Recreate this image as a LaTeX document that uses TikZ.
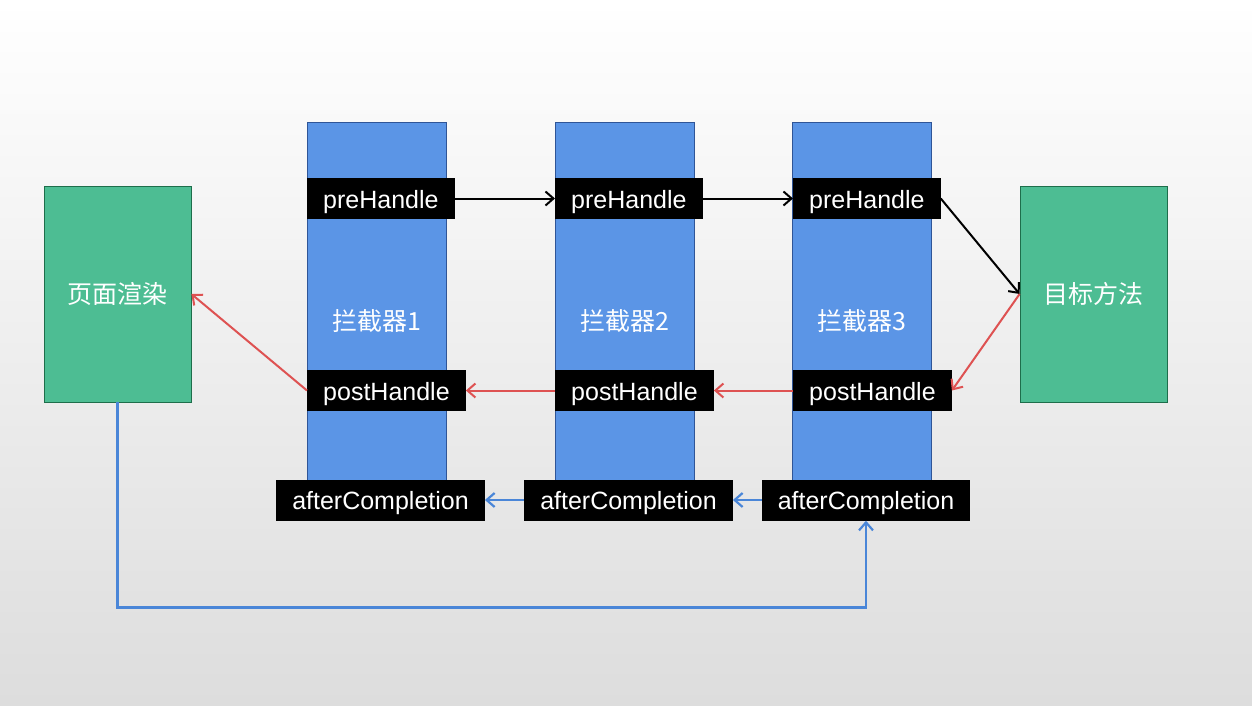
\documentclass[tikz,border=0pt]{standalone}
\usepackage{fontspec}
\setmainfont{Liberation Sans}
\newfontfamily\cjkfont{Noto Sans CJK SC}
\usepackage{tikz}
\usetikzlibrary{arrows.meta}
\definecolor{colblue}{RGB}{91, 149, 230}
\definecolor{coledge}{RGB}{47, 85, 151}
\definecolor{boxgreen}{RGB}{77, 189, 147}
\definecolor{greenedge}{RGB}{30, 110, 75}
\definecolor{redline}{RGB}{222, 82, 82}
\definecolor{blueline}{RGB}{74, 134, 216}
\definecolor{bgbottom}{RGB}{221, 221, 221}
\definecolor{bgmiddle}{RGB}{244, 244, 244}
\tikzstyle{interceptor} = [rectangle, draw=coledge, line width=0.8pt, fill=colblue, text=white, font=\cjkfont\fontsize{25}{30}\selectfont, minimum width=139pt, minimum height=398pt, inner sep=0pt]
\tikzstyle{endbox} = [rectangle, draw=greenedge, line width=0.8pt, fill=boxgreen, text=white, font=\cjkfont\fontsize{25}{30}\selectfont, minimum width=147pt, minimum height=216pt, inner sep=0pt]
\tikzstyle{hook} = [rectangle, fill=black, text=white, font=\fontsize{25}{30}\selectfont, text height=24pt, text depth=5pt, minimum height=41pt, inner xsep=16pt, inner ysep=0pt]
\tikzstyle{tedge}  = [draw, line width=2pt, ->]
\tikzstyle{redge}  = [draw=redline, line width=2pt, ->]
\tikzstyle{bedge}  = [draw=blueline, line width=2.2pt, ->]

\begin{document}
\begin{tikzpicture}[x=1pt, y=-1pt, >={Straight Barb[length=8pt,width=14pt]}]

% background =============================
\fill[top color=white, middle color=bgmiddle, bottom color=bgbottom] (0,0) rectangle (1252,705);

% interceptors =============================
\node[interceptor] (int1) at (376.5,321) {拦截器1};
\node[interceptor] (int2) at (624.5,321) {拦截器2};
\node[interceptor] (int3) at (862,321) {拦截器3};
\node[endbox] (render) at (117.5,294) {页面渲染};
\node[endbox] (goal) at (1093.5,294) {目标方法};

% hooks
\node[hook, anchor=west] (pre1) at (307,198.5) {preHandle};
\node[hook, anchor=west] (pre2) at (555,198.5) {preHandle};
\node[hook, anchor=west] (pre3) at (793,198.5) {preHandle};
\node[hook, anchor=west] (post1) at (307,390.5) {postHandle};
\node[hook, anchor=west] (post2) at (555,390.5) {postHandle};
\node[hook, anchor=west] (post3) at (793,390.5) {postHandle};
\node[hook] (after1) at (380.5,500) {afterCompletion};
\node[hook] (after2) at (628.5,500) {afterCompletion};
\node[hook] (after3) at (866,500) {afterCompletion};

% edges
\path[tedge] (pre1) -- (pre2);
\path[tedge] (pre2) -- (pre3);
\path[tedge] (pre3.east) -- (goal.west);
\path[redge] (goal.west) -- (post3.east);
\path[redge] (post3) -- (post2);
\path[redge] (post2) -- (post1);
\path[redge] (post1.west) -- (render.east);
\path[bedge] (after3) -- (after2);
\path[bedge] (after2) -- (after1);
\path[bedge] (render.south) -- ++(0,205) -| (after3.south);

\end{tikzpicture}
\end{document}
